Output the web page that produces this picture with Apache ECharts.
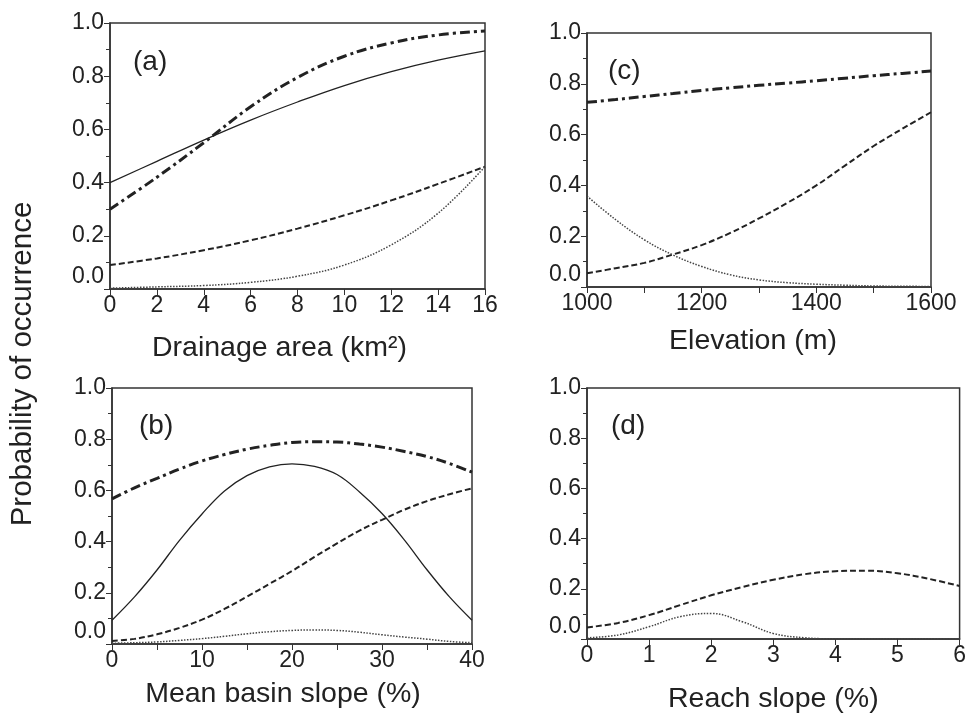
<!DOCTYPE html>
<html>
<head>
<meta charset="utf-8">
<script src="https://cdn.jsdelivr.net/npm/echarts@6/dist/echarts.min.js"></script>
<style>
  html, body { margin: 0; padding: 0; background: #fff; }
  #chart { width: 969px; height: 715px; }
</style>
</head>
<body>
<div id="chart"></div>
<script>
// (a) drainage area
let xA = [0, 2, 4, 6, 8, 10, 12, 14, 16];
let aSolid   = [0.40, 0.48, 0.56, 0.635, 0.703, 0.765, 0.817, 0.86, 0.895];
let aDashDot = [0.30, 0.42, 0.55, 0.685, 0.795, 0.875, 0.925, 0.955, 0.97];
let aDashed  = [0.09, 0.115, 0.146, 0.183, 0.227, 0.277, 0.333, 0.395, 0.46];
let aDotted  = [0.003, 0.008, 0.013, 0.025, 0.048, 0.09, 0.166, 0.285, 0.46];

// (c) elevation
let xC = [1000, 1050, 1100, 1150, 1200, 1250, 1300, 1350, 1400, 1450, 1500, 1550, 1600];
let cDashDot = [0.727, 0.738, 0.75, 0.762, 0.774, 0.784, 0.794, 0.803, 0.812, 0.822, 0.832, 0.841, 0.85];
let cDashed  = [0.054, 0.074, 0.095, 0.128, 0.165, 0.213, 0.27, 0.332, 0.40, 0.478, 0.555, 0.623, 0.688];
let cDotted  = [0.358, 0.265, 0.186, 0.126, 0.081, 0.048, 0.028, 0.017, 0.011, 0.007, 0.004, 0.003, 0.002];

// (b) mean basin slope
let xB = [0, 2.5, 5, 7.5, 10, 12.5, 15, 17.5, 20, 22.5, 25, 27.5, 30, 32.5, 35, 37.5, 40];
let bSolid   = [0.093, 0.184, 0.289, 0.405, 0.508, 0.598, 0.658, 0.692, 0.704, 0.694, 0.662, 0.594, 0.51, 0.406, 0.29, 0.184, 0.093];
let bDashDot = [0.567, 0.61, 0.647, 0.683, 0.715, 0.74, 0.761, 0.776, 0.787, 0.79, 0.789, 0.781, 0.769, 0.752, 0.732, 0.705, 0.671];
let bDashed  = [0.012, 0.02, 0.038, 0.063, 0.095, 0.137, 0.185, 0.235, 0.285, 0.34, 0.393, 0.443, 0.485, 0.525, 0.558, 0.585, 0.608];
let bDotted  = [0.003, 0.005, 0.008, 0.014, 0.021, 0.03, 0.04, 0.048, 0.053, 0.055, 0.053, 0.046, 0.036, 0.027, 0.019, 0.01, 0.005];

// (d) reach slope
let xD = [0, 0.5, 1, 1.5, 2, 2.5, 3, 3.5, 4, 4.5, 5, 5.5, 6];
let dDashed = [0.046, 0.064, 0.095, 0.135, 0.174, 0.207, 0.236, 0.258, 0.27, 0.272, 0.262, 0.24, 0.211];
let dDotted = [0.005, 0.016, 0.049, 0.089, 0.102, 0.069, 0.022, 0.005, 0.001, 0.001, 0.001, 0.001, 0.001];

let yTicks = ['0.0', '0.2', '0.4', '0.6', '0.8', '1.0'];

let ink = '#222';
let font = 'Liberation Sans';

let styles = {
    solid:   { color: ink, width: 1.3, type: 'solid' },
    dashdot: { color: ink, width: 3, type: [10, 4, 3, 4] },
    dashed:  { color: ink, width: 2, type: [6, 3] },
    dotted:  { color: '#444', width: 1.5, type: [1.5, 1.5] }
};

function pairs(xs, ys) {
    return xs.map(function (x, i) { return [x, ys[i]]; });
}

function line(idx, xs, ys, kind) {
    return {
        type: 'line',
        xAxisIndex: idx,
        yAxisIndex: idx,
        data: pairs(xs, ys),
        smooth: 0.4,
        showSymbol: false,
        lineStyle: styles[kind],
        silent: true
    };
}

function xAxis(idx, min, max, interval, minor, name, gap, pad) {
    return {
        type: 'value',
        gridIndex: idx,
        min: min, max: max, interval: interval,
        name: name,
        nameLocation: 'middle',
        nameGap: gap,
        nameTextStyle: { fontSize: 28.5, fontFamily: font, color: ink, padding: pad },
        axisLine: { lineStyle: { color: '#333', width: 1.5 } },
        axisTick: { inside: false, length: 6, lineStyle: { color: '#333' } },
        minorTick: { show: minor, splitNumber: 2, length: 6, lineStyle: { color: '#333' } },
        axisLabel: {
            fontSize: 23, fontFamily: font, color: ink, margin: 5,
            formatter: function (v) { return String(v); }
        },
        splitLine: { show: false }
    };
}

function yAxis(idx) {
    return {
        type: 'value',
        gridIndex: idx,
        min: 0, max: 1, interval: 0.2,
        axisLine: { show: true, lineStyle: { color: '#333', width: 1.5 } },
        axisTick: { show: true, inside: false, length: 6, lineStyle: { color: '#333' } },
        minorTick: { show: true, splitNumber: 2, length: 4, lineStyle: { color: '#333' } },
        axisLabel: {
            fontSize: 23, fontFamily: font, color: ink, margin: 6,
            formatter: function (v) {
                let s = yTicks[Math.round(v * 5)];
                return v === 0 ? '{z|' + s + '}' : s;
            },
            rich: { z: { fontSize: 23, fontFamily: font, color: ink, padding: [0, 0, 24, 0] } }
        },
        splitLine: { show: false }
    };
}

let gridBox = { show: true, borderColor: '#333', borderWidth: 1.5, backgroundColor: 'transparent' };

let myChart = echarts.init(document.getElementById('chart'), null, { renderer: 'canvas' });

option = {
    backgroundColor: '#fff',
    animation: false,
    title: [
        { text: '(a)', left: 133, top: 48 },
        { text: '(c)', left: 608, top: 57 },
        { text: '(b)', left: 139, top: 412 },
        { text: '(d)', left: 611, top: 412 }
    ].map(function (t) {
        t.padding = 0;
        t.textStyle = { fontSize: 28, fontWeight: 'normal', fontFamily: font, color: ink };
        return t;
    }),
    grid: [
        Object.assign({ left: 110, top: 23, width: 375, height: 266 }, gridBox),
        Object.assign({ left: 587, top: 33, width: 344, height: 254 }, gridBox),
        Object.assign({ left: 112, top: 388, width: 360, height: 256 }, gridBox),
        Object.assign({ left: 587, top: 388, width: 374, height: 253 }, gridBox)
    ],
    xAxis: [
        xAxis(0, 0, 16, 2, false, 'Drainage area (km²)', 45, [0, 36, 0, 0]),
        xAxis(1, 1000, 1600, 200, true, 'Elevation (m)', 40, [0, 12, 0, 0]),
        xAxis(2, 0, 40, 10, true, 'Mean basin slope (%)', 36, [0, 18, 0, 0]),
        xAxis(3, 0, 6, 1, false, 'Reach slope (%)', 46, [0, 0, 0, 0])
    ],
    yAxis: [yAxis(0), yAxis(1), yAxis(2), yAxis(3)],
    graphic: [{
        type: 'text',
        x: 23,
        y: 364,
        rotation: Math.PI / 2,
        style: {
            text: 'Probability of occurrence',
            font: '29.5px "Liberation Sans"',
            fill: ink,
            align: 'center',
            verticalAlign: 'middle'
        }
    }],
    series: [
        line(0, xA, aSolid, 'solid'),
        line(0, xA, aDashDot, 'dashdot'),
        line(0, xA, aDashed, 'dashed'),
        line(0, xA, aDotted, 'dotted'),
        line(1, xC, cDashDot, 'dashdot'),
        line(1, xC, cDashed, 'dashed'),
        line(1, xC, cDotted, 'dotted'),
        line(2, xB, bSolid, 'solid'),
        line(2, xB, bDashDot, 'dashdot'),
        line(2, xB, bDashed, 'dashed'),
        line(2, xB, bDotted, 'dotted'),
        line(3, xD, dDashed, 'dashed'),
        line(3, xD, dDotted, 'dotted')
    ]
};

myChart.setOption(option);
</script>
</body>
</html>
